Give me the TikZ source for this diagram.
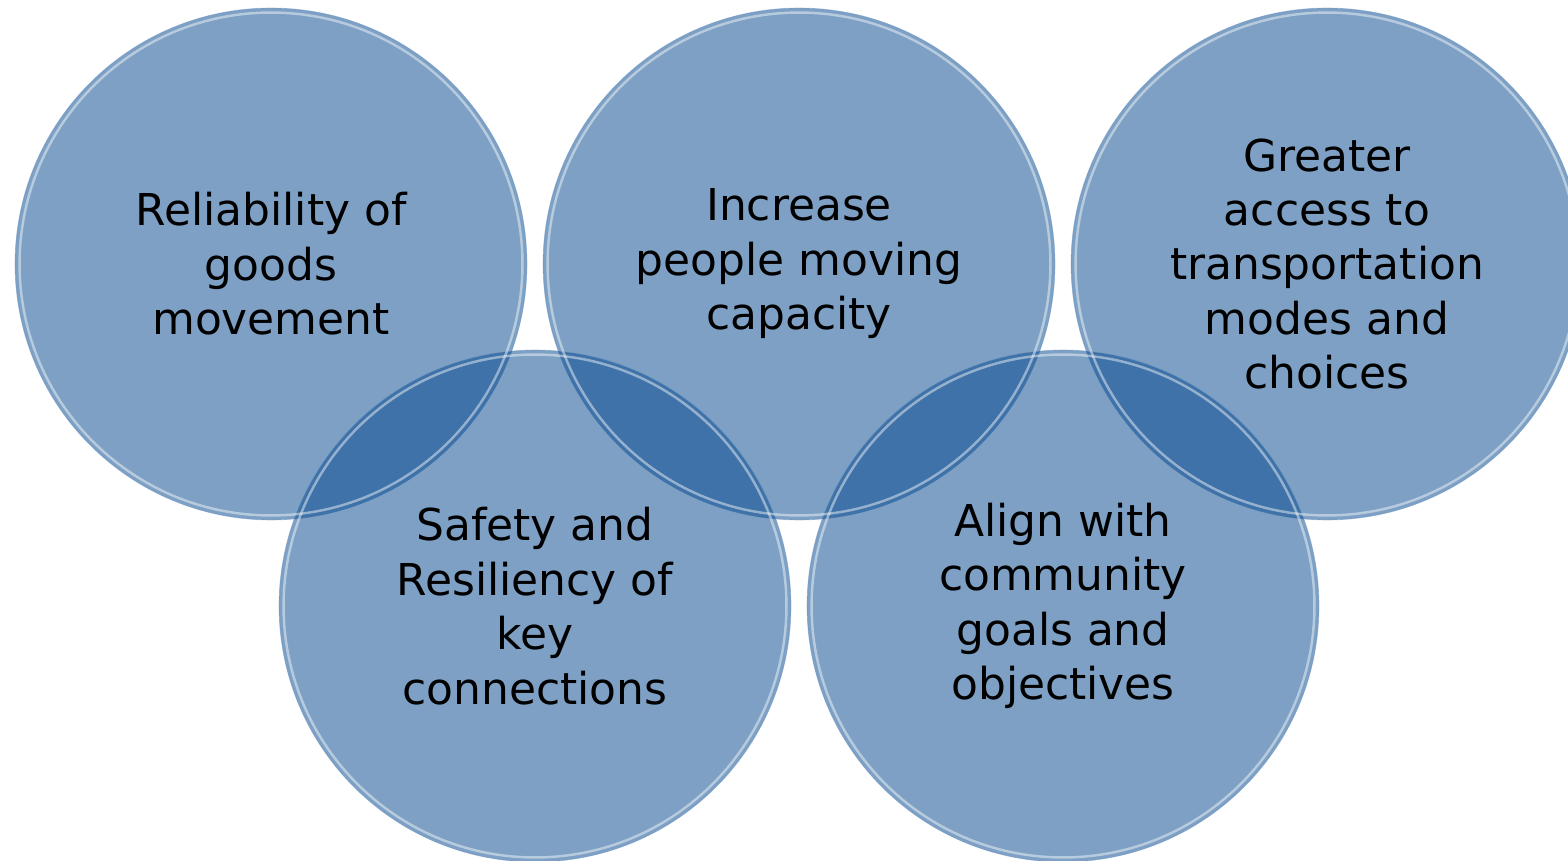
\documentclass[tikz,border=0pt]{standalone}
\usepackage{fontspec}
\setmainfont{DejaVu Sans}
\definecolor{bubblefill}{RGB}{6,73,142}
\definecolor{bubbleedge}{RGB}{105,148,196}

\begin{document}
\begin{tikzpicture}[x=0.02cm, y=-0.02cm,
    bubble/.style={circle, fill=bubblefill, fill opacity=0.52, text opacity=1,
        draw=bubbleedge, draw opacity=0.5, line width=0.4pt,
        minimum size=10.24cm, inner sep=0pt, align=center,
        font=\fontsize{25}{31}\selectfont},
    rim/.style={draw=white, line width=1.4pt, opacity=0.45}]
        \clip (0,0) rectangle (1568,861);

        % Circles
        \node[bubble] (goods) at (271,264) {Reliability of\\goods\\movement};
        \node[bubble] (capacity) at (799,264) {Increase\\people moving\\capacity};
        \node[bubble] (access) at (1327,264) {Greater\\access to\\transportation\\modes and\\choices};
        \node[bubble] (safety) at (535,606) {Safety and\\Resiliency of\\key\\connections};
        \node[bubble] (goals) at (1063,606) {Align with\\community\\goals and\\objectives};

        % Glossy rims
        \foreach \n in {goods,capacity,access,safety,goals}
            \draw[rim] (\n.center) circle (5.03cm);
    \end{tikzpicture}
\end{document}
